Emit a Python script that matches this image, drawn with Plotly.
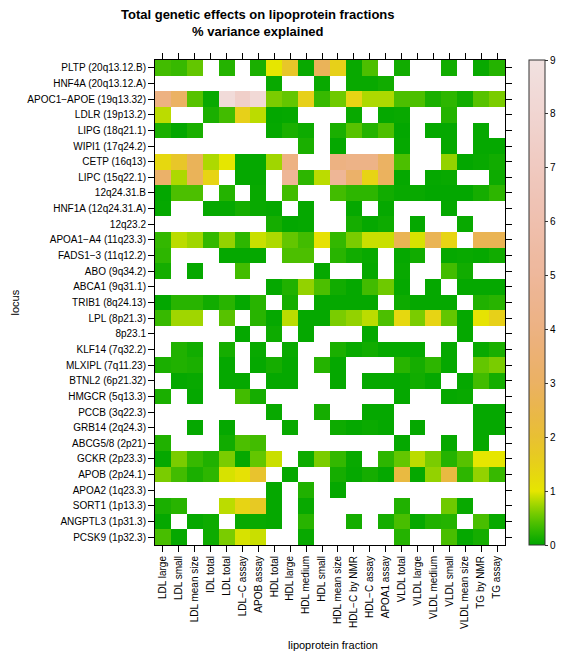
import colorsys
import numpy as np
import plotly.graph_objects as go

NA = None

fractions = ["LDL large", "LDL small", "LDL mean size", "IDL total", "LDL total",
             "LDL\u2212C assay", "APOB assay", "HDL total", "HDL large", "HDL medium",
             "HDL small", "HDL mean size", "HDL\u2212C by NMR", "HDL\u2212C assay",
             "APOA1 assay", "VLDL total", "VLDL large", "VLDL medium", "VLDL small",
             "VLDL mean size", "TG by NMR", "TG assay"]

loci = ["PLTP (20q13.12.B)", "HNF4A (20q13.12.A)", "APOC1\u2212APOE (19q13.32)",
        "LDLR (19p13.2)", "LIPG (18q21.1)", "WIPI1 (17q24.2)", "CETP (16q13)",
        "LIPC (15q22.1)", "12q24.31.B", "HNF1A (12q24.31.A)", "12q23.2",
        "APOA1\u2212A4 (11q23.3)", "FADS1\u22123 (11q12.2)", "ABO (9q34.2)",
        "ABCA1 (9q31.1)", "TRIB1 (8q24.13)", "LPL (8p21.3)", "8p23.1",
        "KLF14 (7q32.2)", "MLXIPL (7q11.23)", "BTNL2 (6p21.32)", "HMGCR (5q13.3)",
        "PCCB (3q22.3)", "GRB14 (2q24.3)", "ABCG5/8 (2p21)", "GCKR (2p23.3)",
        "APOB (2p24.1)", "APOA2 (1q23.3)", "SORT1 (1p13.3)", "ANGPTL3 (1p31.3)",
        "PCSK9 (1p32.3)"]

# % variance explained, one list per locus (columns follow `fractions`)
PLTP = [0.35, 0.3, 0.5, NA, 0.2, NA, 0.15, 1.0, 1.8, 0.05, 2.8, 1.5, 0.05, 0.4, NA, 0.1, NA, NA, 0.1, NA, 0.05, 0.2]
HNF4A = [NA, NA, NA, NA, NA, NA, NA, 0.05, NA, NA, 0.05, NA, 0.05, 0.05, 0.1, NA, NA, NA, NA, NA, NA, NA]
APOC1_APOE = [4.0, 3.0, 0.45, 0.05, 8.5, 7.5, 8.3, 0.6, 0.5, 1.5, 0.3, 0.55, 1.4, 0.8, 0.8, 0.4, 0.4, 0.15, 0.25, 0.1, 0.45, 0.6]
LDLR = [0.85, NA, NA, 0.15, 0.35, 1.5, 0.85, 0.02, 0.03, NA, NA, NA, 0.05, NA, 0.03, 0.05, NA, NA, 0.2, NA, NA, NA]
LIPG = [0.15, 0.02, 0.15, NA, NA, NA, NA, 0.03, 0.15, 0.08, NA, 0.15, 0.45, 0.2, 0.4, 0.02, NA, 0.03, 0.03, NA, 0.03, NA]
WIPI1 = [NA, NA, NA, NA, NA, NA, NA, NA, NA, 0.15, NA, 0.03, NA, NA, NA, 0.03, NA, NA, 0.03, NA, 0.03, 0.03]
CETP = [1.3, 1.8, 2.8, 0.8, 1.0, 0.03, 0.03, 0.75, 4.0, NA, NA, 4.0, 4.2, 4.2, 3.0, 0.4, NA, NA, 0.7, 0.02, 0.05, 0.1]
LIPC = [3.2, 0.8, 2.8, 1.4, NA, 0.03, 0.03, NA, 4.8, 0.25, 0.85, 4.8, 3.2, 1.4, 2.9, 0.03, NA, 0.03, 0.05, NA, NA, 0.08]
Q12q24_31_B = [0.02, 0.4, 0.4, NA, 0.2, NA, 0.05, NA, 0.35, NA, NA, 0.35, 0.25, 0.25, 0.1, 0.05, 0.05, 0.02, 0.02, 0.02, 0.12, 0.25]
HNF1A = [0.03, NA, NA, 0.03, 0.03, 0.12, 0.05, 0.03, NA, 0.03, NA, NA, 0.03, NA, 0.03, NA, NA, NA, 0.03, NA, NA, NA]
Q12q23_2 = [NA, NA, NA, NA, NA, NA, NA, 0.12, 0.02, 0.03, NA, NA, 0.12, 0.03, 0.08, NA, 0.03, NA, NA, 0.05, NA, NA]
APOA1_A4 = [0.28, 0.85, 0.75, 0.28, 0.7, 0.25, 0.9, 0.8, 0.5, 0.35, 1.1, 0.28, 0.6, 0.9, 0.9, 2.7, 0.95, 2.7, 1.4, NA, 2.7, 2.7]
FADS1_3 = [0.25, NA, NA, NA, 0.03, 0.03, 0.03, NA, 0.4, 0.4, NA, 0.22, 0.1, 0.05, NA, 0.03, 0.1, NA, 0.03, 0.05, 0.03, 0.1]
ABO = [0.12, NA, 0.03, NA, NA, 0.35, NA, NA, NA, NA, 0.03, NA, NA, 0.03, NA, 0.05, NA, NA, 0.35, 0.1, NA, NA]
ABCA1 = [NA, NA, NA, NA, NA, NA, NA, 0.03, 0.18, 0.7, 0.4, 0.1, 0.03, 0.35, 0.55, 0.03, NA, 0.03, NA, 0.03, 0.03, 0.03]
TRIB1 = [0.02, 0.22, 0.22, 0.1, 0.22, 0.03, 0.22, NA, 0.12, NA, 0.03, 0.03, 0.03, 0.03, NA, 0.08, 0.03, 0.03, 0.03, NA, 0.18, 0.22]
LPL = [0.3, 0.75, 0.75, NA, 0.45, NA, 0.22, 0.03, 0.85, 0.03, 0.03, 0.6, 0.7, 0.85, 0.4, 1.3, 0.6, 1.4, 0.5, 0.03, 1.05, 1.5]
Q8p23_1 = [NA, NA, NA, NA, NA, 0.03, NA, 0.08, NA, 0.03, NA, NA, NA, 0.03, NA, NA, NA, NA, NA, 0.03, NA, NA]
KLF14 = [NA, 0.18, 0.1, NA, 0.12, NA, 0.05, NA, 0.05, NA, NA, 0.15, 0.05, 0.1, 0.03, 0.03, 0.03, NA, 0.03, NA, 0.05, 0.15]
MLXIPL = [0.15, 0.18, 0.15, NA, 0.03, NA, 0.03, 0.12, 0.03, NA, 0.2, 0.03, NA, NA, NA, 0.22, 0.12, 0.25, 0.03, NA, 0.5, 0.6]
BTNL2 = [NA, 0.03, 0.05, NA, 0.03, 0.03, NA, 0.03, 0.03, NA, NA, 0.03, NA, 0.03, 0.03, 0.03, 0.1, 0.03, NA, 0.03, 0.35, 0.12]
HMGCR = [0.15, NA, 0.03, NA, NA, 0.35, 0.12, NA, NA, NA, NA, NA, NA, NA, NA, 0.03, NA, NA, 0.03, 0.05, NA, NA]
PCCB = [NA, NA, NA, NA, NA, NA, NA, 0.05, NA, NA, 0.12, NA, NA, 0.03, 0.03, NA, NA, NA, NA, NA, 0.03, 0.03]
GRB14 = [NA, NA, 0.03, NA, 0.03, NA, NA, NA, 0.05, NA, NA, 0.08, 0.03, 0.06, 0.03, NA, 0.03, NA, NA, NA, 0.03, 0.03]
ABCG5_8 = [0.18, NA, NA, NA, 0.1, 0.4, 0.35, NA, NA, NA, NA, NA, NA, NA, NA, 0.03, NA, NA, 0.03, NA, 0.03, NA]
GCKR = [0.03, 0.6, 0.3, 0.18, 0.6, 0.03, 0.5, 0.9, NA, 0.08, 0.6, 0.28, 0.05, NA, 0.25, 0.5, 0.85, 0.6, 0.2, 0.45, 1.0, 1.0]
APOB = [0.6, 0.35, 0.15, 0.25, 0.95, 1.1, 1.9, NA, 0.03, NA, NA, 0.12, 0.03, 0.12, 0.03, 2.3, 0.03, 0.7, 2.3, 0.25, 0.7, 0.3]
APOA2 = [NA, NA, NA, NA, NA, NA, NA, 0.03, NA, 0.18, NA, 0.03, NA, NA, NA, NA, NA, NA, NA, NA, NA, NA]
SORT1 = [0.15, 0.22, NA, NA, 0.85, 1.4, 1.7, 0.03, NA, 0.05, NA, NA, NA, NA, NA, 0.18, NA, NA, 0.55, 0.05, NA, NA]
ANGPTL3 = [0.03, NA, 0.03, 0.08, NA, 0.05, 0.05, 0.03, NA, 0.22, NA, NA, 0.12, NA, 0.12, 0.38, 0.03, 0.18, 0.2, NA, 0.38, 0.05]
PCSK9 = [0.38, 0.03, NA, 0.08, 0.6, 0.95, 0.9, NA, NA, 0.05, NA, NA, NA, NA, NA, 0.2, NA, NA, 0.38, 0.03, 0.12, NA]

z = [PLTP, HNF4A, APOC1_APOE, LDLR, LIPG, WIPI1, CETP, LIPC, Q12q24_31_B, HNF1A,
     Q12q23_2, APOA1_A4, FADS1_3, ABO, ABCA1, TRIB1, LPL, Q8p23_1, KLF14, MLXIPL,
     BTNL2, HMGCR, PCCB, GRB14, ABCG5_8, GCKR, APOB, APOA2, SORT1, ANGPTL3, PCSK9]

colorbar_ticks = [0, 1, 2, 3, 4, 5, 6, 7, 8, 9]

# terrain-like colour ramp (green -> yellow -> tan -> pink -> near white)
def terrain(v):
    if v <= 1:
        t = v
        h, s, val = (120 - 60 * t) / 360, 1.0, 0.65 + 0.25 * t
    else:
        t = float(np.interp(v, [1, 2, 3, 4, 5, 6, 7, 8, 9],
                            [0, 0.22, 0.42, 0.55, 0.65, 0.73, 0.8, 0.87, 0.93]))
        h, s, val = 60 * (1 - t) / 360, 1 - t, 0.9 + 0.05 * t
    r, g, b = colorsys.hsv_to_rgb(h, s, val)
    return f"rgb({round(r*255)},{round(g*255)},{round(b*255)})"

vs = np.linspace(0, 9, 181)
colorscale = [[float(v / 9), terrain(v)] for v in vs]

FONT = "Liberation Sans, Arial, Helvetica, sans-serif"

# the page adds an 8px body margin; figure coordinates = page coordinates - 8
OFF = 8
W, H = 564 - OFF, 656 - OFF
L, R, T, B = 155 - OFF, 505 - OFF, 60 - OFF, 545 - OFF
PW, PH = R - L, B - T

def px_x(page_x):
    return (page_x - OFF - L) / PW

def px_y(page_y):
    return (B - (page_y - OFF)) / PH

fig = go.Figure(go.Heatmap(
    z=z, x=fractions, y=loci, zmin=0, zmax=9, colorscale=colorscale,
    hoverongaps=False, xgap=0, ygap=0,
    colorbar=dict(
        x=px_x(529), xanchor="left", xpad=0, ypad=0, y=0.5, yanchor="middle",
        len=1, lenmode="fraction", thickness=16, thicknessmode="pixels",
        outlinewidth=1, outlinecolor="#333333",
        tickvals=colorbar_ticks, ticks="outside", ticklen=3, tickcolor="#333333",
        tickfont=dict(family=FONT, size=10, color="black"),
    ),
))

fig.add_annotation(
    text="<b>Total genetic effects on lipoprotein fractions<br>% variance explained</b>",
    xref="paper", yref="paper", x=px_x(258), y=px_y(41.5),
    xanchor="center", yanchor="bottom", showarrow=False,
    font=dict(family=FONT, size=13, color="black"),
)
fig.add_annotation(
    text="lipoprotein fraction", xref="paper", yref="paper",
    x=px_x(333), y=px_y(645), xanchor="center", yanchor="middle",
    showarrow=False, font=dict(family=FONT, size=11, color="black"),
)
fig.add_annotation(
    text="locus", xref="paper", yref="paper", textangle=-90,
    x=px_x(14), y=0.5, xanchor="center", yanchor="middle",
    showarrow=False, font=dict(family=FONT, size=11, color="black"),
)

fig.update_layout(
    width=W, height=H,
    margin=dict(l=L, r=W - R, t=T, b=H - B, autoexpand=False),
    paper_bgcolor="white", plot_bgcolor="white",
    font=dict(family=FONT, color="black"),
    xaxis=dict(
        automargin=False, tickangle=-90, tickfont=dict(size=10),
        ticks="outside", ticklen=6, tickcolor="black",
        showline=True, linecolor="black", linewidth=1, mirror="ticks",
        showgrid=False, zeroline=False,
    ),
    yaxis=dict(
        automargin=False, autorange="reversed", tickfont=dict(size=10),
        ticks="outside", ticklen=6, tickcolor="black",
        showline=True, linecolor="black", linewidth=1, mirror="ticks",
        showgrid=False, zeroline=False,
    ),
)

fig.write_html("out.html")
